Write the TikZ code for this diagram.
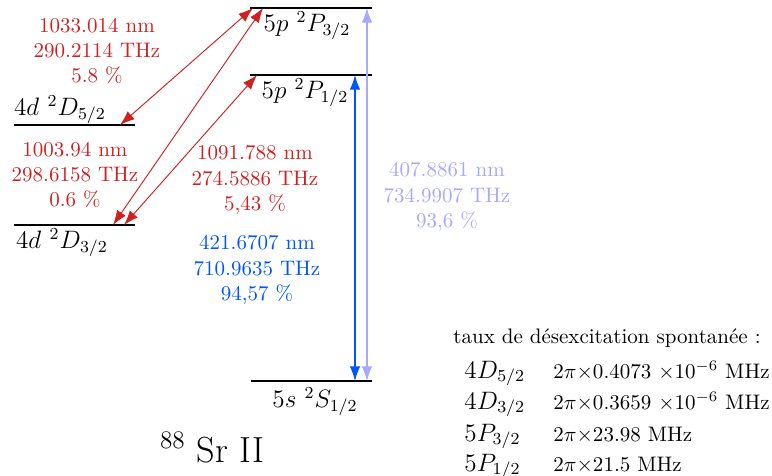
\documentclass[tikz,border=0pt]{standalone}
\usetikzlibrary{arrows.meta}
\definecolor{tred}{RGB}{208,32,32}
\definecolor{tblue}{RGB}{0,85,255}
\definecolor{tlav}{RGB}{168,168,255}
\begin{document}
\begin{tikzpicture}[x=0.476pt,y=-0.476pt,
  level/.style={line width=0.9pt},
  trans/.style={{Latex[length=7pt,width=5pt]}-{Latex[length=7pt,width=5pt]}, line width=0.45pt},
  lvl/.style={font=\large, inner sep=0pt},
  info/.style={align=center, inner sep=0pt, font=\normalsize},
  row/.style={anchor=base west, inner sep=0pt}]
\useasboundingbox (0,0) rectangle (772,476);
% levels
\coordinate (P3L) at (250,8);   \coordinate (P3R) at (372,8);
\coordinate (P1L) at (250,75);  \coordinate (P1R) at (372,75);
\coordinate (D5L) at (14,125);  \coordinate (D5R) at (135,125);
\coordinate (D3L) at (14,225);  \coordinate (D3R) at (135,225);
\coordinate (gsL) at (251,381); \coordinate (gsR) at (372,381);
\draw[level] (P3L) -- (P3R);
\draw[level] (P1L) -- (P1R);
\draw[level] (D5L) -- (D5R);
\draw[level] (D3L) -- (D3R);
\draw[level] (gsL) -- (gsR);
\node[lvl] (lP3) at (307,26) {$5p\ ^2P_{3/2}$};
\node[lvl] (lP1) at (305,93) {$5p\ ^2P_{1/2}$};
\node[lvl] (lD5) at (60,110) {$4d\ ^2D_{5/2}$};
\node[lvl] (lD3) at (62,243) {$4d\ ^2D_{3/2}$};
\node[lvl] (lgs) at (315,402) {$5s\ ^2S_{1/2}$};
% transition end points
\coordinate (a1b) at (120,125); \coordinate (a1t) at (253,8);
\coordinate (a2b) at (113,225); \coordinate (a2t) at (263,8);
\coordinate (a3b) at (124,225); \coordinate (a3t) at (257,75);
\coordinate (bt) at (355,75);   \coordinate (bb) at (355,381);
\coordinate (lt) at (367,8);    \coordinate (lb) at (367,381);
\draw[trans, tred] (a1b) -- (a1t);
\draw[trans, tred] (a2b) -- (a2t);
\draw[trans, tred] (a3b) -- (a3t);
\draw[trans, tblue, line width=0.55pt] (bb) -- (bt);
\draw[trans, tlav, line width=0.55pt] (lb) -- (lt);
% transition labels
\node[info, text=tred] (t1) at (97,51) {1033.014 nm\\290.2114 THz\\5.8 \%};
\node[info, text=tred] (t2) at (75,175) {1003.94 nm\\298.6158 THz\\0.6 \%};
\node[info, text=tred] (t3) at (255,180) {1091.788 nm\\274.5886 THz\\5,43 \%};
\node[info, text=tblue] (t4) at (257,270) {421.6707 nm\\710.9635 THz\\94,57 \%};
\node[info, text=tlav] (t5) at (447,197) {407.8861 nm\\734.9907 THz\\93,6 \%};
% title
\node[inner sep=0pt, anchor=base] (title) at (212,462) {\LARGE $^{88}$ Sr II};
% decay rates
\node[row] (hdr) at (453,343) {taux de d\'esexcitation spontan\'ee :};
\node[row, font=\large] (r1) at (464,378) {$4D_{5/2}$};
\node[row] (v1) at (553,378) {$2\pi{\times}0.4073\ {\times}10^{-6}$ MHz};
\node[row, font=\large] (r2) at (464,409) {$4D_{3/2}$};
\node[row] (v2) at (553,409) {$2\pi{\times}0.3659\ {\times}10^{-6}$ MHz};
\node[row, font=\large] (r3) at (464,441) {$5P_{3/2}$};
\node[row] (v3) at (553,441) {$2\pi{\times}23.98$ MHz};
\node[row, font=\large] (r4) at (464,471) {$5P_{1/2}$};
\node[row] (v4) at (553,471) {$2\pi{\times}21.5$ MHz};
\end{tikzpicture}
\end{document}
